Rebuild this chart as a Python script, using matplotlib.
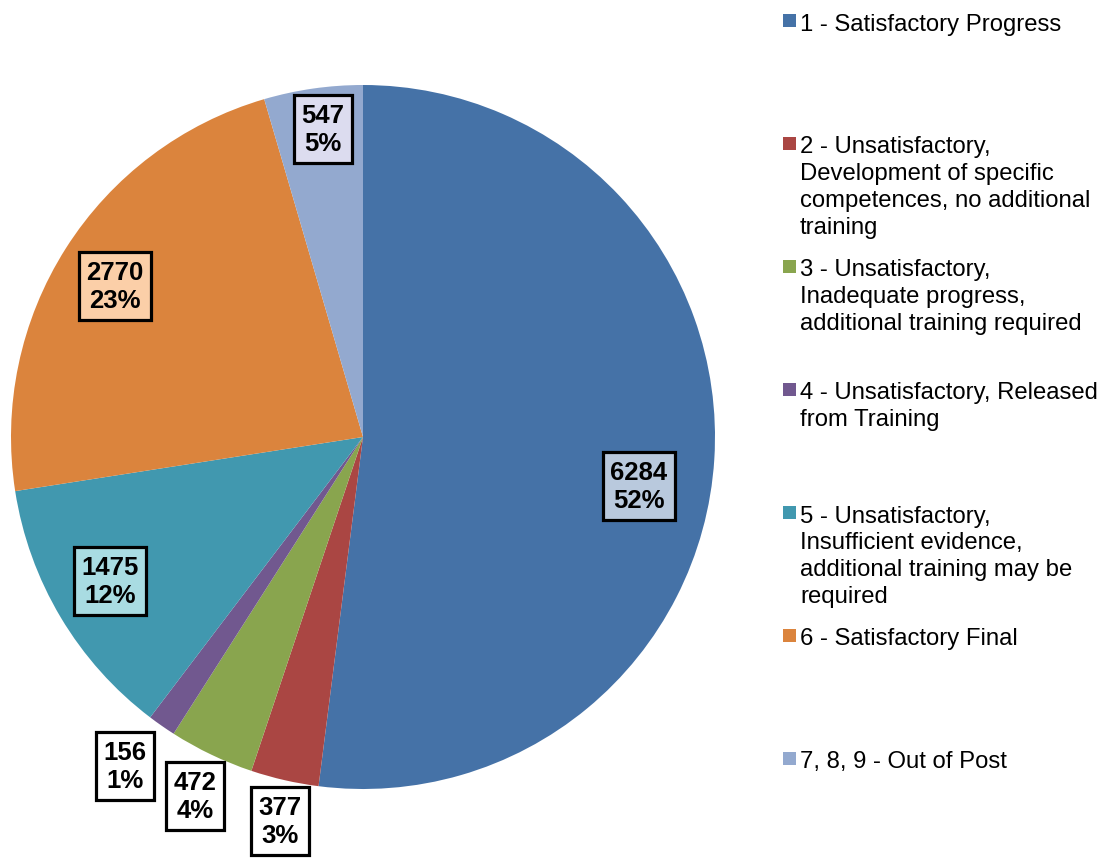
import matplotlib
matplotlib.use("Agg")
import matplotlib.pyplot as plt
from matplotlib.patches import Rectangle

plt.rcParams['font.family'] = ['Liberation Sans', 'DejaVu Sans']

# data
counts = [6284, 377, 472, 156, 1475, 2770, 547]
legend_labels = [
    "1 - Satisfactory Progress",
    "2 - Unsatisfactory,\nDevelopment of specific\ncompetences, no additional\ntraining",
    "3 - Unsatisfactory,\nInadequate progress,\nadditional training required",
    "4 - Unsatisfactory, Released\nfrom Training",
    "5 - Unsatisfactory,\nInsufficient evidence,\nadditional training may be\nrequired",
    "6 - Satisfactory Final",
    "7, 8, 9 - Out of Post",
]

colors = ['#4572a7', '#aa4643', '#89a54e', '#71588f', '#4198af', '#db843d', '#93a9cf']
box_fills = ['#b9c9dd', 'white', 'white', 'white', '#a9dce2', '#fbcfa8', '#dcdcef']
# label box centres (pie radius units)
label_pos = [(0.784, -0.139), (-0.236, -1.091), (-0.477, -1.020), (-0.676, -0.935),
             (-0.719, -0.409), (-0.705, 0.429), (-0.114, 0.875)]

W, H = 1110, 862
fig = plt.figure(figsize=(W / 100, H / 100), dpi=100)

cx, cy, R = 363, 438, 352
ax = fig.add_axes([(cx - R) / W, (H - cy - R) / H, 2 * R / W, 2 * R / H])
ax.pie(counts, colors=colors, startangle=90, counterclock=False, radius=1,
       wedgeprops=dict(linewidth=0))
ax.set_xlim(-1, 1)
ax.set_ylim(-1, 1)
ax.set_aspect('equal')
ax.axis('off')

total = sum(counts)
for n, pos, fc in zip(counts, label_pos, box_fills):
    pct = round(100 * n / total)
    ax.text(pos[0], pos[1], f"{n}\n{pct}%", ha='center', va='center',
            fontsize=18.5, fontweight='bold', linespacing=1.25, clip_on=False,
            bbox=dict(boxstyle='square,pad=0.3', facecolor=fc,
                      edgecolor='black', linewidth=2.3), zorder=5)

# legend
first_line = 21
step = 123
for i, (lab, col) in enumerate(zip(legend_labels, colors)):
    yc = first_line + i * step
    fig.patches.append(Rectangle((783 / W, (H - yc - 6.5) / H), 13 / W, 13 / H,
                                 transform=fig.transFigure, facecolor=col,
                                 edgecolor='none'))
    fig.text(800 / W, (H - yc + 7.5) / H, lab, ha='left', va='top',
             fontsize=17.2, linespacing=1.28)

fig.savefig("out.png", dpi=100)
